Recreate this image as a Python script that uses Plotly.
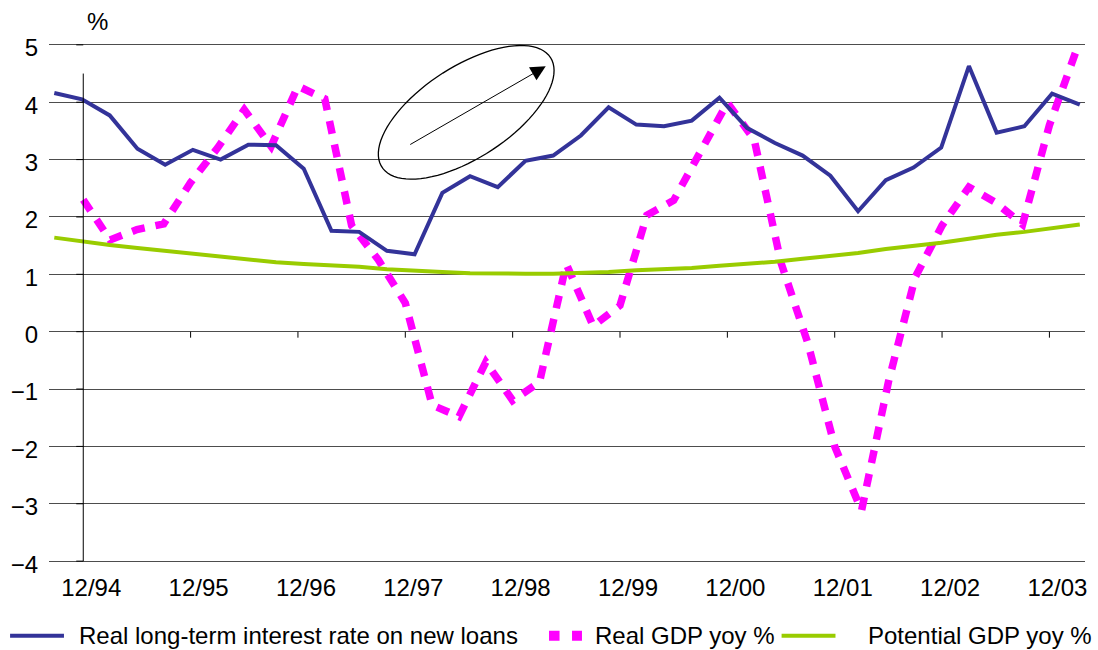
import numpy as np
import plotly.graph_objects as go

# ---------------- data (quarterly) ----------------
# Real long-term interest rate on new loans and potential GDP: 9/94 .. 12/03
rate_real = [4.16, 4.05, 3.77, 3.19, 2.91, 3.17, 3.00, 3.26, 3.25, 2.84,
             1.76, 1.74, 1.41, 1.35, 2.42, 2.71, 2.52, 2.98, 3.07, 3.42,
             3.91, 3.61, 3.58, 3.68, 4.08, 3.55, 3.29, 3.07, 2.72, 2.10,
             2.64, 2.86, 3.21, 4.63, 3.47, 3.58, 4.15, 3.96]
gdp_potential = [1.64, 1.57, 1.51, 1.46, 1.41, 1.36, 1.31, 1.26, 1.21, 1.18,
                 1.16, 1.13, 1.09, 1.06, 1.04, 1.02, 1.01, 1.01, 1.01, 1.02,
                 1.04, 1.07, 1.09, 1.11, 1.15, 1.18, 1.22, 1.27, 1.32, 1.37,
                 1.44, 1.49, 1.55, 1.62, 1.69, 1.74, 1.80, 1.87]
# Real GDP yoy %: 12/94 .. 3/04
gdp_real = [2.30, 1.60, 1.78, 1.88, 2.60, 3.20, 3.87, 3.23, 4.28, 4.06,
            1.85, 1.25, 0.50, -1.28, -1.48, -0.53, -1.20, -0.88, 1.18, 0.10,
            0.46, 2.03, 2.29, 3.13, 3.99, 3.35, 1.20, -0.20, -2.00, -3.12,
            -0.88, 0.95, 1.85, 2.52, 2.25, 1.87, 3.60, 4.90]

q_rate = list(range(len(rate_real)))
q_gdp = list(range(len(gdp_real)))

tick_labels = ["12/94", "12/95", "12/96", "12/97", "12/98",
               "12/99", "12/00", "12/01", "12/02", "12/03"]
tick_q = [0, 4, 8, 12, 16, 20, 24, 28, 32, 36]
y_ticks = [-4, -3, -2, -1, 0, 1, 2, 3, 4, 5]
y_text = ["\u22124", "\u22123", "\u22122", "\u22121", "0", "1", "2", "3", "4", "5"]

series_names = ["Real long-term interest rate on new loans",
                "Real GDP yoy %", "Potential GDP yoy %"]

# ---------------- styling / geometry ----------------
W, H = 1098, 650
L, R = 49, 1087          # plot area in px
T, B = 41.6, 564.2
FONT = "Liberation Sans, Arial, sans-serif"
FS = 24
BLUE, MAGENTA, GREEN = "#333399", "#FF00FF", "#99CC00"
GDP_DASH = "13px,11px"


def px_x(p):
    return (p - L) / (R - L)


def px_y(p):
    return (B - p) / (B - T)


fig = go.Figure()
fig.add_trace(go.Scatter(x=q_rate, y=gdp_potential, mode="lines",
                         name=series_names[2], xaxis="x2", yaxis="y",
                         line=dict(color=GREEN, width=4)))
fig.add_trace(go.Scatter(x=q_rate, y=rate_real, mode="lines",
                         name=series_names[0], xaxis="x2", yaxis="y",
                         line=dict(color=BLUE, width=4)))
fig.add_trace(go.Scatter(x=q_gdp, y=gdp_real, mode="lines",
                         name=series_names[1], xaxis="x", yaxis="y",
                         line=dict(color=MAGENTA, width=7.5, dash=GDP_DASH)))

shapes = []
# vertical y axis line at 12/94
shapes.append(dict(type="line", xref="x", yref="y", x0=0, x1=0, y0=-4, y1=4.5,
                   line=dict(color="black", width=1)))
# y tick marks
for v in y_ticks:
    shapes.append(dict(type="line", xref="x", yref="y", xsizemode="pixel",
                       xanchor=0, x0=-7, x1=0, y0=v, y1=v,
                       line=dict(color="black", width=1)))
# x tick marks on the zero line
for q in tick_q[1:]:
    shapes.append(dict(type="line", xref="x", yref="y", ysizemode="pixel",
                       yanchor=0, x0=q, x1=q, y0=0, y1=-6,
                       line=dict(color="black", width=1)))

# ellipse annotation
cx, cy, ea, eb, th = 467, 112, 100.7, 45.7, np.radians(33)
t = np.linspace(0, 2 * np.pi, 90)
ex = cx + ea * np.cos(t) * np.cos(th) - eb * np.sin(t) * np.sin(th)
ey = cy - (ea * np.cos(t) * np.sin(th) + eb * np.sin(t) * np.cos(th))
path = "M " + " L ".join(f"{px_x(a):.5f},{px_y(b):.5f}" for a, b in zip(ex, ey)) + " Z"
shapes.append(dict(type="path", xref="paper", yref="paper", path=path,
                   line=dict(color="black", width=1.3)))

# manual legend
leg_y = px_y(636)
shapes.append(dict(type="line", xref="paper", yref="paper",
                   x0=px_x(10), x1=px_x(64), y0=leg_y, y1=leg_y,
                   line=dict(color=BLUE, width=4)))
shapes.append(dict(type="line", xref="paper", yref="paper",
                   x0=px_x(550), x1=px_x(583), y0=leg_y, y1=leg_y,
                   line=dict(color=MAGENTA, width=10, dash="10.5px,12.5px")))
shapes.append(dict(type="line", xref="paper", yref="paper",
                   x0=px_x(783), x1=px_x(837), y0=leg_y, y1=leg_y,
                   line=dict(color=GREEN, width=4)))

annotations = []
for name, xs in zip(series_names, [77, 594, 868]):
    annotations.append(dict(text=name, xref="paper", yref="paper",
                            x=px_x(xs), y=leg_y, xanchor="left", yanchor="middle",
                            showarrow=False, font=dict(family=FONT, size=FS, color="black")))
annotations.append(dict(text="%", xref="paper", yref="paper",
                        x=px_x(97.5), y=px_y(21), xanchor="center", yanchor="middle",
                        showarrow=False, font=dict(family=FONT, size=FS, color="black")))
annotations.append(dict(text="", xref="paper", yref="paper",
                        x=px_x(546.7), y=px_y(66), ax=-137, ay=79,
                        showarrow=True, arrowhead=2, arrowsize=3, arrowwidth=1,
                        arrowcolor="black"))

fig.update_layout(
    width=W, height=H,
    margin=dict(l=L, r=W - R, t=T, b=H - B, pad=0),
    plot_bgcolor="white", paper_bgcolor="white",
    showlegend=False,
    font=dict(family=FONT, size=FS, color="black"),
    xaxis=dict(range=[-1.276, 37.326], tickvals=tick_q, ticktext=tick_labels,
               showgrid=False, zeroline=False, showline=False, ticks="",
               ticklabelshift=8, ticklabelstandoff=7,
               tickfont=dict(family=FONT, size=FS, color="black")),
    xaxis2=dict(range=[-0.191, 37.188], overlaying="x", visible=False),
    yaxis=dict(range=[-4.05, 5.05], tickvals=y_ticks, ticktext=y_text,
               showgrid=True, gridcolor="#4d4d4d", gridwidth=1,
               zeroline=False, showline=False, ticks="",
               ticklabelstandoff=10, ticklabelshift=3,
               tickfont=dict(family=FONT, size=FS, color="black")),
    shapes=shapes,
    annotations=annotations,
)

fig.write_html("out.html",
               config={"displayModeBar": False},
               post_script="document.body.style.margin='0px';"
                           "document.body.style.overflow='hidden';")
